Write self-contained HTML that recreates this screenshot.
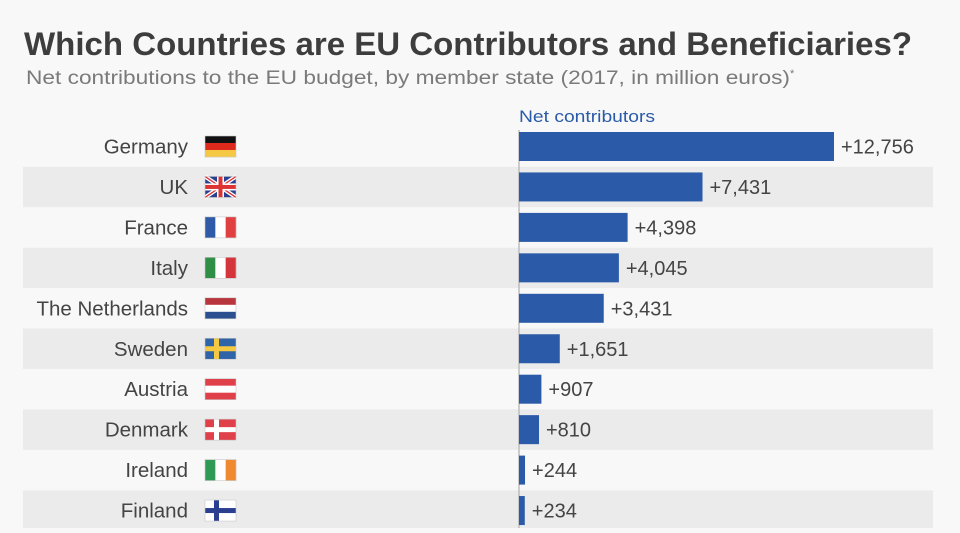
<!DOCTYPE html>
<html><head><meta charset="utf-8"><style>
body{margin:0;width:960px;height:528px;overflow:hidden;background:#f8f8f8;font-family:"Liberation Sans",sans-serif;}
</style></head><body>
<svg width="960" height="528">
<rect width="960" height="528" fill="#f8f8f8"/>
<text x="24" y="55" font-size="32" font-weight="bold" fill="#3d3d3d" textLength="888" lengthAdjust="spacingAndGlyphs">Which Countries are EU Contributors and Beneficiaries?</text>
<text x="26" y="84" font-size="19.5" fill="#7a7a7a"><tspan textLength="764" lengthAdjust="spacingAndGlyphs">Net contributions to the EU budget, by member state (2017, in million euros)</tspan><tspan font-size="11" dy="-7">*</tspan></text>
<text x="519" y="122" font-size="17" fill="#2a5aa8" textLength="136" lengthAdjust="spacingAndGlyphs">Net contributors</text>
<g id="rows"></g>
<line x1="519" y1="130" x2="519" y2="528" stroke="#bdbdbd" stroke-width="1.5"/>
<g id="bars"></g>
</svg>
<script>
const countries=["Germany","UK","France","Italy","The Netherlands","Sweden","Austria","Denmark","Ireland","Finland"];
const values=[12756,7431,4398,4045,3431,1651,907,810,244,234];
const NS="http://www.w3.org/2000/svg";
const x0=519, kx=315/12756;
function xs(v){return x0+v*kx;}
function yc(i){return 146.5+i*40.45;}
function mk(t,a,p){const e=document.createElementNS(NS,t);for(const k in a)e.setAttribute(k,a[k]);p.appendChild(e);return e;}
const rows=document.getElementById('rows'),bars=document.getElementById('bars');
function flag(i,x,y,p){
 const w=31,h=21,c=countries[i];
 const g=mk('g',{},p);
 
 
 const hs=(cols)=>cols.forEach((col,k)=>mk('rect',{x:x,y:y+k*h/cols.length,width:w,height:h/cols.length+0.2,fill:col},g));
 const vs=(cols)=>cols.forEach((col,k)=>mk('rect',{x:x+k*w/cols.length,y:y,width:w/cols.length+0.2,height:h,fill:col},g));
 if(c==="Germany")hs(["#111","#dd2a1c","#f4c842"]);
 else if(c==="France")vs(["#2f5aa8","#fff","#e04040"]);
 else if(c==="Italy")vs(["#2f8f46","#fff","#d4353a"]);
 else if(c==="Ireland")vs(["#2f9a55","#fff","#f08a30"]);
 else if(c==="The Netherlands")hs(["#b8363d","#fff","#2c4f90"]);
 else if(c==="Austria")hs(["#e0404a","#fff","#e0404a"]);
 else if(c==="UK"){mk('rect',{x:x,y:y,width:w,height:h,fill:"#2a3f8f"},g);
  mk('path',{d:`M${x} ${y}L${x+w} ${y+h}M${x+w} ${y}L${x} ${y+h}`,stroke:"#fff","stroke-width":4},g);
  mk('path',{d:`M${x} ${y}L${x+w} ${y+h}M${x+w} ${y}L${x} ${y+h}`,stroke:"#d33","stroke-width":1.3},g);
  mk('rect',{x:x,y:y+h/2-3.5,width:w,height:7,fill:"#fff"},g);mk('rect',{x:x+w/2-3.5,y:y,width:7,height:h,fill:"#fff"},g);
  mk('rect',{x:x,y:y+h/2-2,width:w,height:4,fill:"#d33"},g);mk('rect',{x:x+w/2-2,y:y,width:4,height:h,fill:"#d33"},g);}
 else{const bg={Sweden:"#2f64a8",Denmark:"#e0404a",Finland:"#fff"}[c],cr={Sweden:"#f4c842",Denmark:"#fff",Finland:"#2a3f8f"}[c];
  mk('rect',{x:x,y:y,width:w,height:h,fill:bg},g);
  mk('rect',{x:x,y:y+h/2-2.5,width:w,height:5,fill:cr},g);mk('rect',{x:x+9,y:y,width:5,height:h,fill:cr},g);}
 mk('rect',{x:x,y:y,width:w,height:h,fill:"none",stroke:"#c8c8c8","stroke-width":0.6},g);
}
countries.forEach((c,i)=>{
 const y=yc(i);
 if(i%2===1){const r=mk('rect',{x:23,y:y-20.2,width:910,height:40.4,fill:"#ebebeb"},rows);
  
  }
 const t=mk('text',{x:188,y:y+7,"font-size":20.5,fill:"#444","text-anchor":"end"},rows);t.textContent=c;
 
 
 flag(i,205,y-10.5,rows);
 const b=mk('rect',{x:x0,y:y-14.5,width:Math.max(xs(values[i])-x0,0),height:29,fill:"#2a5aa8"},bars);
 
 
 const v=mk('text',{x:xs(values[i])+7,y:y+7,"font-size":20,fill:"#444"},bars);v.textContent="+"+values[i].toLocaleString('en-US');
 
 
});
</script>
</body></html>
